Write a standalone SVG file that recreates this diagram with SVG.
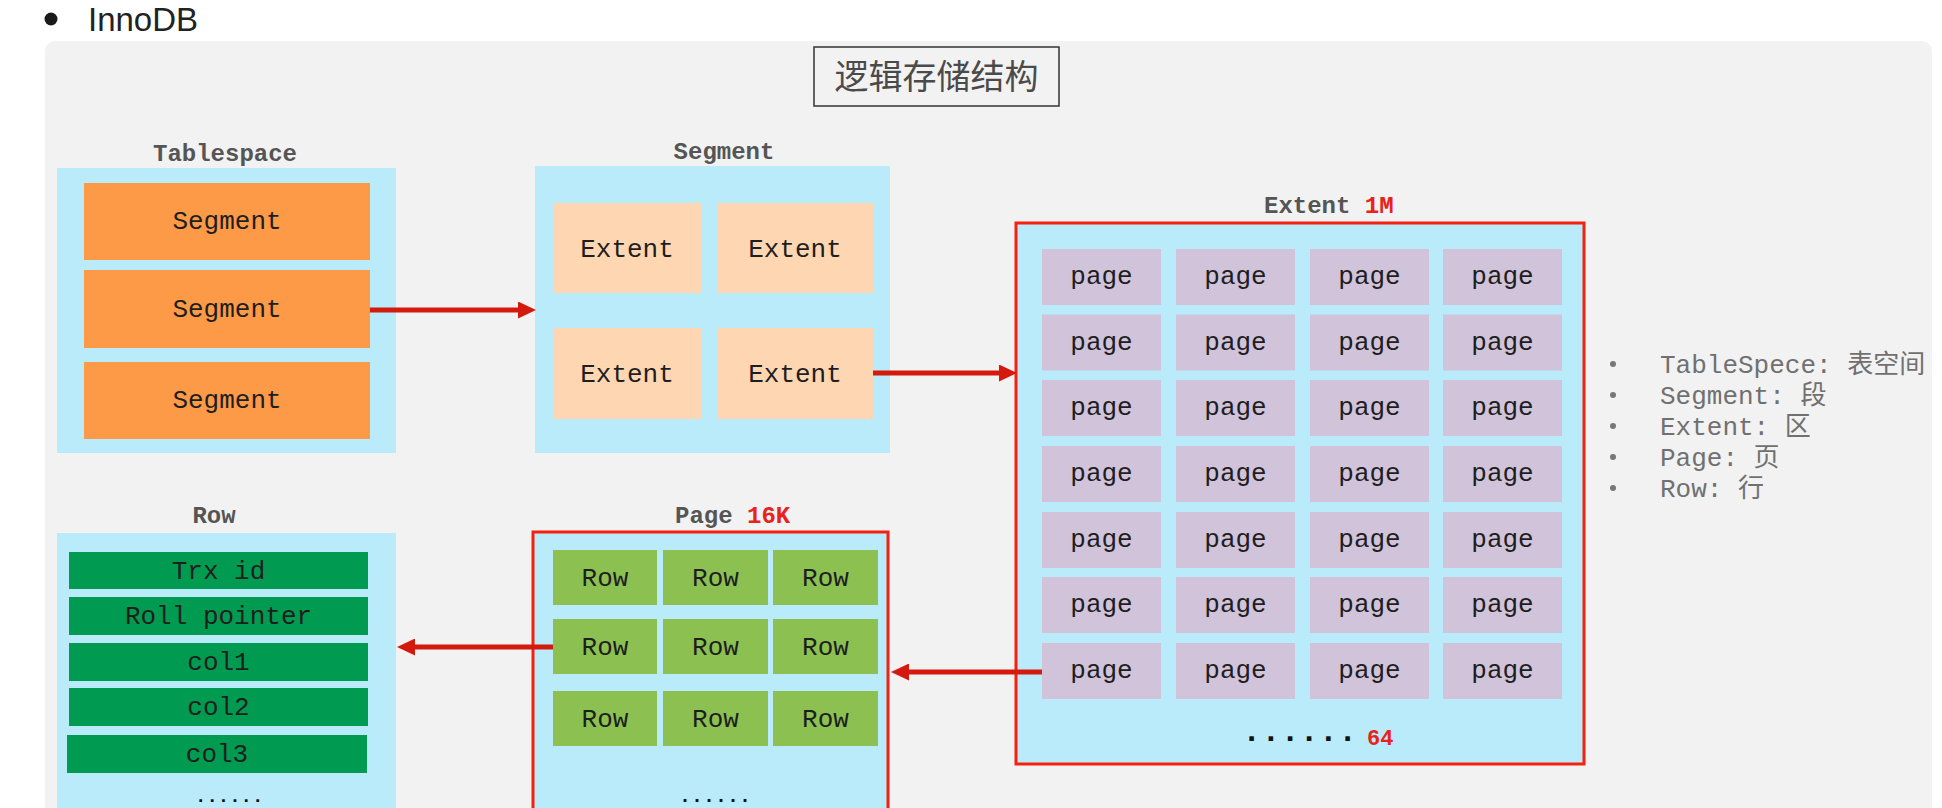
<svg xmlns="http://www.w3.org/2000/svg" width="1942" height="808" viewBox="0 0 1942 808">
<defs>
<style>
.mono{font-family:"Liberation Mono","Courier New","Noto Sans CJK SC",monospace}
.lbl{font-family:"Liberation Mono","Courier New",monospace;font-weight:bold;font-size:24px;fill:#555}
.red{fill:#e8231a}
.cell{font-family:"Liberation Mono","Courier New",monospace;font-size:26px;fill:#1e1e1e;text-anchor:middle}
.blue{fill:#b9ebfa}
.seg{fill:#fd9a48}
.ext{fill:#fed6b2}
.pg{fill:#d0c3da}
.rw{fill:#8cc152}
.col{fill:#009b50}
.frame{fill:#b9ebfa;stroke:#f5200f;stroke-width:3}
.arrow{stroke:#d41a0c;stroke-width:5;fill:none}
.legend{font-family:"Liberation Mono","Courier New","Noto Sans CJK SC",monospace;font-size:26px;fill:#707070}
.dots{font-family:"Liberation Mono","Courier New",monospace;font-weight:bold;fill:#111}
</style>
<marker id="ah" markerUnits="userSpaceOnUse" viewBox="0 0 18 17" markerWidth="18" markerHeight="17" refX="2" refY="8.5" orient="auto">
<path d="M0,0 L18,8.5 L0,17 z" fill="#d41a0c"/>
</marker>
</defs>
<rect x="0" y="0" width="1942" height="808" fill="#ffffff"/>
<g id="header">
<circle cx="51" cy="19" r="6.5" fill="#1a1a1a"/>
<text x="88" y="31" font-family="Liberation Sans, Arial, sans-serif" font-size="33" fill="#222">InnoDB</text>
</g>
<rect id="panel" x="45" y="41" width="1887" height="800" rx="10" fill="#f2f2f2"/>
<g id="title">
<rect x="814" y="47" width="245" height="59" fill="#f2f2f2" stroke="#333" stroke-width="1.5"/>
<text x="936.5" y="89" font-family="Noto Sans CJK SC, sans-serif" font-size="34" fill="#4a4a4a" text-anchor="middle">逻辑存储结构</text>
</g>
<g id="tablespace">
<text class="lbl" x="225" y="161" text-anchor="middle">Tablespace</text>
<rect class="blue" x="57" y="168" width="339" height="285"/>
<rect class="seg" x="84" y="183" width="286" height="77"/>
<rect class="seg" x="84" y="270" width="286" height="78"/>
<rect class="seg" x="84" y="362" width="286" height="77"/>
<text class="cell" x="227" y="229">Segment</text>
<text class="cell" x="227" y="317">Segment</text>
<text class="cell" x="227" y="408">Segment</text>
</g>
<g id="segment">
<text class="lbl" x="724" y="159" text-anchor="middle">Segment</text>
<rect class="blue" x="535" y="166" width="355" height="287"/>
<rect class="ext" x="553" y="203" width="148" height="90"/>
<rect class="ext" x="717" y="203" width="156" height="90"/>
<rect class="ext" x="553" y="328" width="148" height="91"/>
<rect class="ext" x="717" y="328" width="156" height="91"/>
<text class="cell" x="627" y="257">Extent</text>
<text class="cell" x="795" y="257">Extent</text>
<text class="cell" x="627" y="382">Extent</text>
<text class="cell" x="795" y="382">Extent</text>
</g>
<g id="extent">
<text class="lbl" x="1264" y="213">Extent <tspan class="red">1M</tspan></text>
<rect class="frame" x="1016" y="223" width="568" height="541"/>
<g class="pg">
<rect x="1042" y="249" width="119" height="56"/><rect x="1176" y="249" width="119" height="56"/><rect x="1310" y="249" width="119" height="56"/><rect x="1443" y="249" width="119" height="56"/>
<rect x="1042" y="314.5" width="119" height="56"/><rect x="1176" y="314.5" width="119" height="56"/><rect x="1310" y="314.5" width="119" height="56"/><rect x="1443" y="314.5" width="119" height="56"/>
<rect x="1042" y="380" width="119" height="56"/><rect x="1176" y="380" width="119" height="56"/><rect x="1310" y="380" width="119" height="56"/><rect x="1443" y="380" width="119" height="56"/>
<rect x="1042" y="446" width="119" height="56"/><rect x="1176" y="446" width="119" height="56"/><rect x="1310" y="446" width="119" height="56"/><rect x="1443" y="446" width="119" height="56"/>
<rect x="1042" y="512" width="119" height="56"/><rect x="1176" y="512" width="119" height="56"/><rect x="1310" y="512" width="119" height="56"/><rect x="1443" y="512" width="119" height="56"/>
<rect x="1042" y="577" width="119" height="56"/><rect x="1176" y="577" width="119" height="56"/><rect x="1310" y="577" width="119" height="56"/><rect x="1443" y="577" width="119" height="56"/>
<rect x="1042" y="643" width="119" height="56"/><rect x="1176" y="643" width="119" height="56"/><rect x="1310" y="643" width="119" height="56"/><rect x="1443" y="643" width="119" height="56"/>
</g>
<g class="cell">
<text x="1101.5" y="284">page</text><text x="1235.5" y="284">page</text><text x="1369.5" y="284">page</text><text x="1502.5" y="284">page</text>
<text x="1101.5" y="349.5">page</text><text x="1235.5" y="349.5">page</text><text x="1369.5" y="349.5">page</text><text x="1502.5" y="349.5">page</text>
<text x="1101.5" y="415">page</text><text x="1235.5" y="415">page</text><text x="1369.5" y="415">page</text><text x="1502.5" y="415">page</text>
<text x="1101.5" y="481">page</text><text x="1235.5" y="481">page</text><text x="1369.5" y="481">page</text><text x="1502.5" y="481">page</text>
<text x="1101.5" y="547">page</text><text x="1235.5" y="547">page</text><text x="1369.5" y="547">page</text><text x="1502.5" y="547">page</text>
<text x="1101.5" y="612">page</text><text x="1235.5" y="612">page</text><text x="1369.5" y="612">page</text><text x="1502.5" y="612">page</text>
<text x="1101.5" y="678">page</text><text x="1235.5" y="678">page</text><text x="1369.5" y="678">page</text><text x="1502.5" y="678">page</text>
</g>
<text class="dots" x="1242" y="741" font-size="32">......</text>
<text class="mono red" x="1367" y="745" font-size="22" font-weight="bold">64</text>
</g>
<g id="legend">
<g fill="#777"><circle cx="1613" cy="364" r="3"/><circle cx="1613" cy="395" r="3"/><circle cx="1613" cy="426" r="3"/><circle cx="1613" cy="457" r="3"/><circle cx="1613" cy="488" r="3"/></g>
<text class="legend" x="1660" y="373">TableSpece: 表空间</text>
<text class="legend" x="1660" y="404">Segment: 段</text>
<text class="legend" x="1660" y="435">Extent: 区</text>
<text class="legend" x="1660" y="466">Page: 页</text>
<text class="legend" x="1660" y="497">Row: 行</text>
</g>
<g id="page">
<text class="lbl" x="675" y="523">Page <tspan class="red">16K</tspan></text>
<rect class="frame" x="533" y="532" width="355" height="300"/>
<g class="rw">
<rect x="553" y="550" width="104" height="55"/><rect x="663" y="550" width="105" height="55"/><rect x="773" y="550" width="105" height="55"/>
<rect x="553" y="619" width="104" height="55"/><rect x="663" y="619" width="105" height="55"/><rect x="773" y="619" width="105" height="55"/>
<rect x="553" y="691" width="104" height="55"/><rect x="663" y="691" width="105" height="55"/><rect x="773" y="691" width="105" height="55"/>
</g>
<g class="cell">
<text x="605" y="586">Row</text><text x="715.5" y="586">Row</text><text x="825.5" y="586">Row</text>
<text x="605" y="655">Row</text><text x="715.5" y="655">Row</text><text x="825.5" y="655">Row</text>
<text x="605" y="727">Row</text><text x="715.5" y="727">Row</text><text x="825.5" y="727">Row</text>
</g>
<text class="dots" x="679" y="802" font-size="20">......</text>
</g>
<g id="row">
<text class="lbl" x="214" y="523" text-anchor="middle">Row</text>
<rect class="blue" x="57" y="533" width="339" height="300"/>
<g class="col">
<rect x="69" y="552" width="299" height="37"/>
<rect x="69" y="597" width="299" height="38"/>
<rect x="69" y="643" width="299" height="38"/>
<rect x="69" y="688" width="299" height="38"/>
<rect x="67" y="735" width="300" height="38"/>
</g>
<g class="cell" fill="#111">
<text x="218.5" y="579">Trx id</text>
<text x="218.5" y="624">Roll pointer</text>
<text x="218.5" y="670">col1</text>
<text x="218.5" y="715">col2</text>
<text x="217" y="762">col3</text>
</g>
<text class="dots" x="195" y="802" font-size="19">......</text>
</g>
<g id="connectors">
<line class="arrow" x1="370" y1="310" x2="520" y2="310" marker-end="url(#ah)"/>
<line class="arrow" x1="873" y1="373" x2="1001" y2="373" marker-end="url(#ah)"/>
<line class="arrow" x1="1042" y1="672" x2="907" y2="672" marker-end="url(#ah)"/>
<line class="arrow" x1="553" y1="647" x2="413" y2="647" marker-end="url(#ah)"/>
</g>
</svg>
